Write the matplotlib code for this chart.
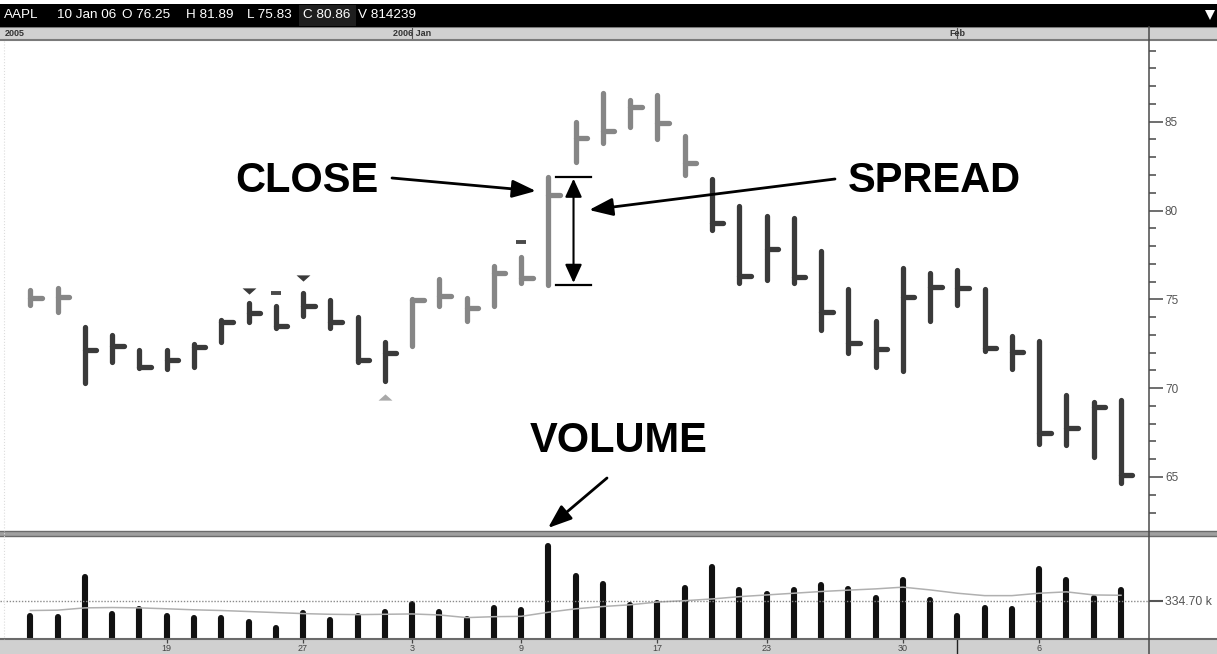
import matplotlib
matplotlib.use("Agg")
import matplotlib.pyplot as plt
from matplotlib.ticker import MultipleLocator, FixedLocator
from matplotlib.patches import Rectangle
from matplotlib.path import Path

plt.rcParams['font.family'] = ['Liberation Sans', 'DejaVu Sans']

# ---------------- data ----------------
ticker = "AAPL"
header_date = "10 Jan 06"
header_open = "O 76.25"
header_high = "H 81.89"
header_low = "L 75.83"
header_close = "C 80.86"
header_vol = "V 814239"

day_labels = ["19", "27", "3", "9", "17", "23", "30", "6"]
day_label_idx = [5, 10, 14, 18, 23, 27, 32, 37]
month_labels = ["2006 Jan", "Feb"]
month_idx = [14, 34]
year_label = "2005"

highs = [75.5, 75.65, 73.45, 73.0, 72.15, 72.15, 72.5, 73.85, 74.8, 74.6,
         75.35, 74.95, 74.0, 72.6, 75.0, 76.15, 75.1, 76.85, 77.4, 81.89,
         85.0, 86.6, 86.2, 86.5, 84.2, 81.8, 80.25, 79.7, 79.6, 77.7,
         75.6, 73.8, 76.75, 76.5, 76.65, 75.6, 72.95, 72.65, 69.6, 69.2, 69.35]
lows = [74.7, 74.3, 70.3, 71.45, 71.15, 71.1, 71.2, 72.6, 73.7, 73.4,
        74.05, 73.4, 71.5, 70.4, 72.35, 74.6, 73.8, 74.6, 75.9, 75.83,
        82.75, 83.8, 84.7, 84.0, 82.0, 78.9, 75.9, 76.1, 75.9, 73.3,
        72.0, 71.2, 70.95, 73.8, 74.7, 72.1, 71.1, 66.85, 66.8, 66.1, 64.65]
closes = [75.07, 75.15, 72.15, 72.4, 71.2, 71.6, 72.3, 73.7, 74.25, 73.5,
          74.6, 73.75, 71.6, 72.0, 74.95, 75.2, 74.5, 76.5, 76.2, 80.86,
          84.1, 84.45, 85.85, 84.9, 82.7, 79.3, 76.3, 77.85, 76.25, 74.3,
          72.55, 72.2, 75.15, 75.7, 75.65, 72.25, 72.05, 67.5, 67.75, 68.95, 65.1]
# 'g' = grey (up trend), 'd' = dark
bar_tone = ['g', 'g'] + ['d'] * 12 + ['g'] * 11 + ['d'] * 16

volumes_k = [201, 193, 539, 222, 258, 201, 187, 187, 148, 98,
             231, 163, 198, 237, 305, 237, 178, 272, 252, 814.239,
             548, 482, 296, 317, 444, 628, 426, 394, 426, 471,
             435, 358, 515, 341, 201, 272, 264, 613, 515, 358, 426]
volume_ma_k = [249, 252, 272, 275, 272, 264, 255, 249, 240, 231,
               222, 216, 213, 216, 219, 210, 187, 195, 198, 234,
               264, 284, 299, 323, 335, 350, 370, 385, 400, 415,
               427, 438, 453, 429, 400, 379, 379, 400, 412, 385, 382]
volume_ref_k = 334.70

down_mark_idx = [8, 10]
down_mark_price = [75.49, 76.2]
dash_mark_idx = [9, 18]
dash_mark_price = [75.37, 78.25]
up_mark_idx = [13]
up_mark_price = [69.5]

spread_idx = 19
price_major = [65, 70, 75, 80, 85]

# ---------------- layout helpers ----------------
W, H = 1217, 654
X0, DX = 30.4, 27.265            # pixel of first bar, pixels per bar
P_REF, P_REF_Y, PPU = 85, 121.7, 17.765


def rect(x0, y0, x1, y1):
    return [x0 / W, 1 - y1 / H, (x1 - x0) / W, (y1 - y0) / H]


def xl(px0, px1):
    return ((px0 - X0) / DX, (px1 - X0) / DX)


GREY = '#868686'
DARK = '#3a3a3a'
BAR_LW = 3.8

fig = plt.figure(figsize=(W / 100, H / 100), dpi=100)
fig.patch.set_facecolor('white')

# ---------------- price panel ----------------
axp = fig.add_axes(rect(0, 41, 1149, 530))
axp.set_xlim(*xl(0, 1149))
axp.set_ylim(P_REF - (530 - P_REF_Y) / PPU, P_REF + (P_REF_Y - 41) / PPU)
for s in axp.spines.values():
    s.set_visible(False)
axp.yaxis.tick_right()
axp.yaxis.set_major_locator(FixedLocator(price_major))
axp.yaxis.set_minor_locator(MultipleLocator(1))
axp.set_yticklabels([str(v) for v in price_major])
axp.tick_params(axis='y', which='major', direction='out', length=10, width=1.2,
                color='#555555', labelcolor='#555555', labelsize=8.5, pad=1.5)
axp.tick_params(axis='y', which='minor', direction='out', length=5, width=1.2,
                color='#555555')
axp.set_xticks([])

for i, (hi, lo, cl, tone) in enumerate(zip(highs, lows, closes, bar_tone)):
    c = GREY if tone == 'g' else DARK
    axp.plot([i, i], [lo, hi], color=c, lw=BAR_LW, solid_capstyle='round')
    axp.plot([i, i + 0.42], [cl, cl], color=c, lw=BAR_LW, solid_capstyle='round')

tri_down = Path([(-1, 0.45), (1, 0.45), (0, -0.45), (-1, 0.45)])
tri_up = Path([(-1, -0.45), (1, -0.45), (0, 0.45), (-1, -0.45)])
axp.plot(down_mark_idx, down_mark_price, ls='none', marker=tri_down,
         ms=10, color='#3a3a3a', mew=0)
axp.plot(up_mark_idx, up_mark_price, ls='none', marker=tri_up,
         ms=10, color='#a9a9a9', mew=0)
axp.plot(dash_mark_idx, dash_mark_price, ls='none', marker='_',
         ms=6.5, mew=2.8, color='#4a4a4a')

# spread marker around bar 19
sh, sl = highs[spread_idx], lows[spread_idx]
axp.plot([spread_idx + 0.27, spread_idx + 1.57], [sh, sh], color='black', lw=1.6)
axp.plot([spread_idx + 0.27, spread_idx + 1.57], [sl, sl], color='black', lw=1.6)
axp.annotate('', xy=(spread_idx + 0.92, sh - 0.1), xytext=(spread_idx + 0.92, sl + 0.1),
             arrowprops=dict(arrowstyle='<|-|>,head_length=0.7,head_width=0.32',
                             mutation_scale=16, lw=1.5, color='black',
                             shrinkA=0, shrinkB=0))

# ---------------- volume panel ----------------
axv = fig.add_axes(rect(0, 536, 1149, 639))
axv.set_xlim(*xl(0, 1149))
axv.set_ylim(0, volume_ref_k * 1000 * (639 - 536) / 38.3)
for s in axv.spines.values():
    s.set_visible(False)
vl = axv.vlines(range(len(volumes_k)), 0, [v * 1000 for v in volumes_k],
                colors='#111111', lw=4.4)
vl.set_capstyle('round')
axv.plot(range(len(volume_ma_k)), [v * 1000 for v in volume_ma_k],
         color='#b0b0b0', lw=1.1)
axv.axhline(volume_ref_k * 1000, color='#8a8a8a', lw=1, ls=(0, (1, 1.2)))
axv.yaxis.tick_right()
axv.set_yticks([volume_ref_k * 1000])
axv.set_yticklabels([f"{volume_ref_k:.2f} k"])
axv.tick_params(axis='y', direction='out', length=10, width=1.5,
                color='#555555', labelcolor='#555555', labelsize=8.8, pad=1.5)
axv.set_xticks([])

# ---------------- top date strip ----------------
axt = fig.add_axes(rect(0, 27, W, 40))
axt.set_xlim(*xl(0, W))
axt.set_ylim(0, 1)
axt.set_facecolor('#d0d0d0')
for k in ['left', 'right']:
    axt.spines[k].set_visible(False)
for k in ['top', 'bottom']:
    axt.spines[k].set_color('#7a7a7a')
    axt.spines[k].set_linewidth(1.5)
axt.set_xticks([])
axt.set_yticks([])
axt.vlines(month_idx, 0, 1, color='#555555', lw=0.8)
axt.text(5 / W, 0.5, year_label, transform=axt.transAxes, ha='left', va='center',
         fontsize=6.5, fontweight='bold', color='#333333')
for i, lab in zip(month_idx, month_labels):
    axt.text(i, 0.5, lab, ha='center', va='center', fontsize=6.5,
             fontweight='bold', color='#333333')

# ---------------- bottom date strip ----------------
axb = fig.add_axes(rect(0, 639, W, H))
axb.set_xlim(*xl(0, W))
axb.set_ylim(0, 1)
axb.set_facecolor('#d0d0d0')
for k in ['left', 'right', 'bottom']:
    axb.spines[k].set_visible(False)
axb.spines['top'].set_color('#6a6a6a')
axb.spines['top'].set_linewidth(1.5)
axb.set_xticks([])
axb.set_yticks([])
axb.vlines(day_label_idx, 0.72, 1, color='#444444', lw=0.9)
axb.vlines([month_idx[1]], 0, 1, color='#222222', lw=1)
for i, lab in zip(day_label_idx, day_labels):
    axb.text(i, 0.38, lab, ha='center', va='center', fontsize=6.5, color='#444444')

# ---------------- overlay (frame & annotations, pixel coordinates) ----------------
ov = fig.add_axes([0, 0, 1, 1])
ov.set_xlim(0, W)
ov.set_ylim(H, 0)
ov.axis('off')
ov.patch.set_alpha(0)

# header
ov.add_patch(Rectangle((0, 4), W, 23, facecolor='black', edgecolor='none'))
ov.add_patch(Rectangle((299, 5), 57, 21, facecolor='#1e1e1e', edgecolor='none'))
hdr = [(4, ticker), (57, header_date), (122, header_open), (186, header_high),
       (247, header_low), (303, header_close), (358, header_vol)]
for x, t in hdr:
    ov.text(x, 15.5, t, color='white', fontsize=9.7, ha='left', va='center')
ov.plot([1210], [15], marker='v', ms=7, color='white', mew=0)

# separator between panels
ov.add_patch(Rectangle((0, 530.5), W, 5, facecolor='#a0a0a0', edgecolor='none'))
ov.plot([0, W], [531, 531], color='#6a6a6a', lw=1)
ov.plot([0, W], [535.5, 535.5], color='#6a6a6a', lw=1)

# right axis line, faint left border
ov.plot([1149, 1149], [27, H], color='#4a4a4a', lw=1.1)
ov.plot([4, 4], [41, 639], color='#dcdcdc', lw=0.8, ls=':')

# annotations
ov.text(235, 181, "CLOSE", fontsize=30, fontweight='bold', ha='left', va='center',
        color='black')
ov.text(848, 181, "SPREAD", fontsize=30, fontweight='bold', ha='left', va='center',
        color='black')
ov.text(530, 441, "VOLUME", fontsize=30, fontweight='bold', ha='left', va='center',
        color='black')
astyle = dict(arrowstyle='-|>,head_length=0.8,head_width=0.3', mutation_scale=18,
              lw=2, color='black', shrinkA=0, shrinkB=0)
ov.annotate('', xy=(536, 191), xytext=(392, 178), arrowprops=astyle)
ov.annotate('', xy=(589, 210), xytext=(835, 179), arrowprops=astyle)
ov.annotate('', xy=(548, 528), xytext=(607, 478), arrowprops=astyle)

fig.savefig("out.png", dpi=100)
